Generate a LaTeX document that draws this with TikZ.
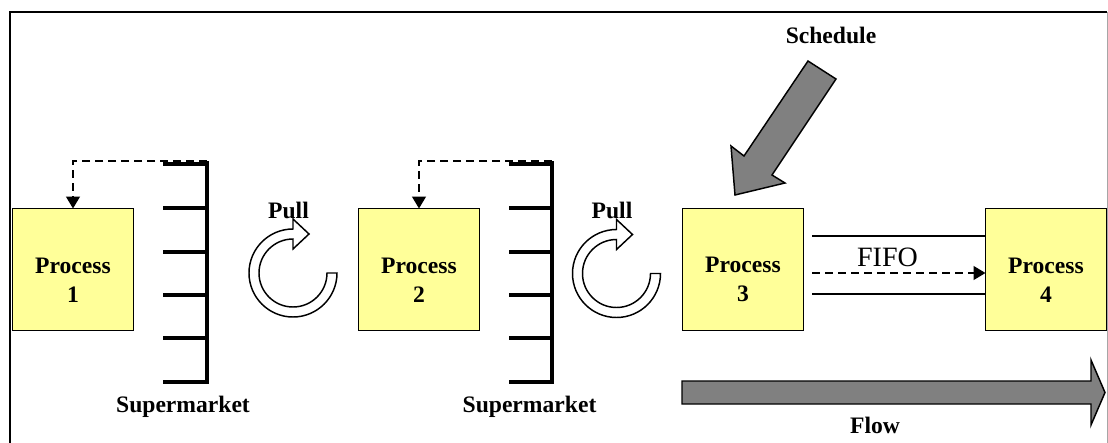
\documentclass[tikz,border=0pt]{standalone}
\usepackage{fontspec}
\setmainfont{Liberation Serif}
\usetikzlibrary{arrows.meta,calc}
\definecolor{procyellow}{HTML}{FFFF99}
\definecolor{arrowgrey}{HTML}{808080}
\begin{document}
\begin{tikzpicture}[x=0.75pt,y=-0.75pt,
  proc/.style={draw=black, line width=1.1pt, fill=procyellow, minimum width=90.75pt, minimum height=91.5pt, inner sep=0pt, outer sep=0pt, align=center, font=\fontsize{17.7pt}{21.75pt}\selectfont\bfseries},
  lbl/.style={font=\fontsize{17.7pt}{21.75pt}\selectfont\bfseries, inner sep=0pt, anchor=base},
  fifolbl/.style={font=\fontsize{21pt}{25pt}\selectfont, inner sep=0pt, anchor=base},
  rack/.style={line width=2.3pt},
  dashline/.style={line width=1.1pt, dash pattern=on 6pt off 3.75pt},
  ring/.style={draw=black, line width=1.1pt, fill=white, line join=miter},
  bigarrow/.style={draw=black, line width=1.1pt, fill=arrowgrey, line join=miter},
  ptr/.style={-{Triangle[length=9pt,width=10.5pt]}},
  pullarrow/.pic={
    \path[ring] (44,0) arc[start angle=0,end angle=270,radius=44]
      -- (0,-54) -- (16,-39) -- (0,-24) -- (0,-34)
      arc[start angle=270,end angle=0,radius=34] -- cycle;
  },
]
\useasboundingbox (0,0) rectangle (1108,443);

% frame
\draw[line width=1.5pt] (10,443) -- (10,12) -- (1107,12);
\draw[gray!70, line width=0.75pt] (1107,12) -- (1107,443);

% process boxes
\node[proc] (p1) at (73,269.5) {\rule{0pt}{27pt}Process\\1};
\node[proc] (p2) at (419,269.5) {\rule{0pt}{27pt}Process\\2};
\node[proc] (p3) at (743,269.5) {\rule{0pt}{27pt}Process\\3};
\node[proc] (p4) at (1046,269.5) {\rule{0pt}{27pt}Process\\4};

% supermarket racks
\coordinate (r1) at (207,161);
\coordinate (r2) at (552,161);
\draw[rack] (163,382) -- (207,382) -- (r1);
\foreach \yy in {164,208,252,295,338} \draw[rack] (163,\yy) -- (207,\yy);
\draw[rack] (509,382) -- (552,382) -- (r2);
\foreach \yy in {164,208,252,295,338} \draw[rack] (509,\yy) -- (552,\yy);

% kanban dashed connectors
\draw[dashline, ptr] (r1) -| (p1.north);
\draw[dashline, ptr] (r2) -| (p2.north);

% pull arrows
\pic at (293,273) {pullarrow};
\pic at (616.5,273.5) {pullarrow};
\node[lbl] (pull1) at (288.5,218) {Pull};
\node[lbl] (pull2) at (612,218) {Pull};

% labels
\node[lbl] (sm1) at (183,412) {Supermarket};
\node[lbl] (sm2) at (529.5,412) {Supermarket};
\node[lbl] (sched) at (831,43) {Schedule};
\node[lbl] (flow) at (875,433) {Flow};
\node[fifolbl] (fifo) at (887.5,266) {FIFO};

% FIFO lane
\coordinate (fa) at (812,236);
\coordinate (fb) at (812,273);
\coordinate (fc) at (812,294);
\draw[line width=1.1pt] (fa) -- (fa -| p4.west);
\draw[line width=1.1pt] (fc) -- (fc -| p4.west);
\draw[dashline, ptr] (fb) -- (fb -| p4.west);

% schedule arrow
\draw[bigarrow] (808,61) -- (836,79) -- (772,175) -- (785,183) -- (735,195) -- (731,146) -- (744,156) -- cycle;

% flow arrow
\draw[bigarrow] (682,381) -- (1091,381) -- (1091,360) -- (1105,392.5) -- (1091,425) -- (1091,404) -- (682,404) -- cycle;
\end{tikzpicture}
\end{document}
